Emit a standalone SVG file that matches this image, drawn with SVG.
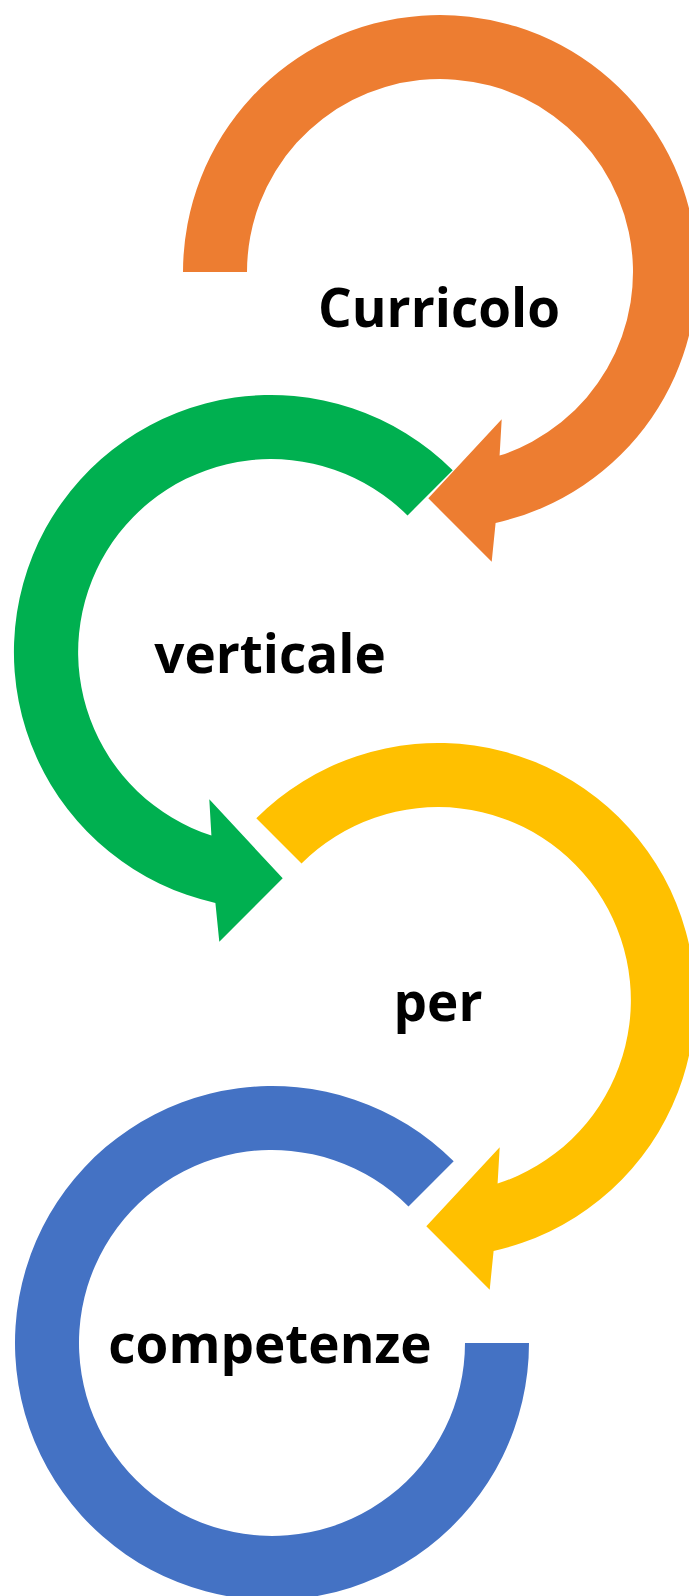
<svg xmlns="http://www.w3.org/2000/svg" width="689" height="1596" viewBox="0 0 689 1596">
<style>
.lbl{font-family:"Open Sans","Noto Sans","Liberation Sans",sans-serif;font-weight:700;font-size:53px;fill:#000;text-anchor:middle}
</style>
<rect width="689" height="1596" fill="#fff"/>
<g id="connectors">
<path id="arrow-orange" fill="#ED7D31" d="M183,272 A257,257 0 1 1 495.6,522.9 L491.7,561.7 L428.3,498.3 L501.7,419.3 L499.6,455.6 A193,193 0 1 0 247,272 Z"/>
<path id="arrow-green" fill="#00B050" d="M452.7,470.3 A257,257 0 1 0 215.4,902.9 L219.3,941.7 L282.7,878.3 L209.3,799.3 L211.4,835.6 A193,193 0 1 1 407.5,515.5 Z"/>
<path id="arrow-yellow" fill="#FFC000" d="M256.3,818.3 A257,257 0 1 1 493.6,1250.9 L489.7,1289.7 L426.3,1226.3 L499.7,1147.3 L497.6,1183.6 A193,193 0 1 0 301.5,863.5 Z"/>
<path id="arc-blue" fill="#4472C4" d="M453.7,1161.3 A257,257 0 1 0 529,1343 L465,1343 A193,193 0 1 1 408.5,1206.5 Z"/>
</g>
<g id="node-curricolo"><text class="lbl" x="439" y="327">Curricolo</text></g>
<g id="node-verticale"><text class="lbl" x="270" y="673">verticale</text></g>
<g id="node-per"><text class="lbl" x="438" y="1021">per</text></g>
<g id="node-competenze"><text class="lbl" x="270" y="1363">competenze</text></g>
</svg>
